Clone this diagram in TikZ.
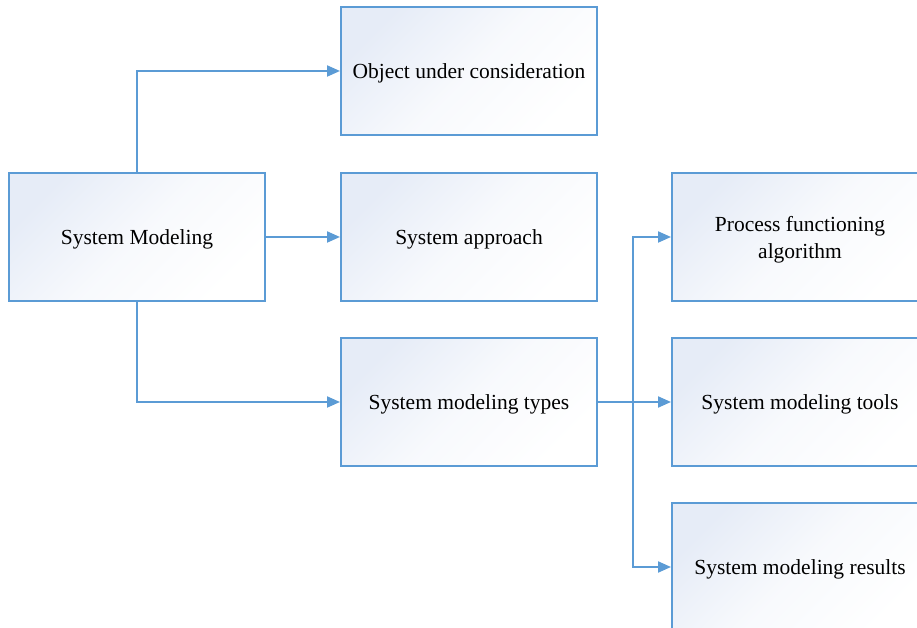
\documentclass[tikz,border=0pt]{standalone}
\usepackage{fontspec}
\setmainfont{Liberation Serif}
\usetikzlibrary{arrows.meta}
\definecolor{lineblue}{HTML}{5B9BD5}
\definecolor{fillblue}{HTML}{E6ECF7}
\begin{document}
\begin{tikzpicture}[x=1pt, y=1pt, >={Triangle[length=13pt, width=11pt]},
	khoi/.style={draw=lineblue, line width=2pt, top color=fillblue, bottom color=white,
		middle color=fillblue!30!white, shading angle=45, minimum width=256pt,
		minimum height=128pt, align=center, text depth=-3pt,
		font=\fontsize{21.5}{27}\selectfont},
	noi/.style={->, draw=lineblue, line width=2pt}]
	
	% 1. Khung ảnh
	\clip (0,0) rectangle (917,628);
	
	% 2. Các khối
	\node[khoi] (sys) at (137,391) {System Modeling};
	\node[khoi] (obj) at (469,557) {Object under consideration};
	\node[khoi] (appr) at (469,391) {System approach};
	\node[khoi] (types) at (469,226) {System modeling types};
	\node[khoi] (proc) at (800,391) {Process functioning\\algorithm};
	\node[khoi] (tools) at (800,226) {System modeling tools};
	\node[khoi] (res) at (800,61) {System modeling results};
	
	% 3. Mũi tên từ khối chính
	\draw[noi] (sys.north) |- (obj.west);
	\draw[noi] (sys.east) -- (appr.west);
	\draw[noi] (sys.south) |- (types.west);
	
	% 4. Rẽ nhánh sang cột phải
	\coordinate (nhanh) at ([xshift=35pt]types.east);
	\draw[noi] (types.east) -- (tools.west);
	\draw[noi] (nhanh) |- (proc.west);
	\draw[noi] (nhanh) |- (res.west);
	
\end{tikzpicture}
\end{document}
